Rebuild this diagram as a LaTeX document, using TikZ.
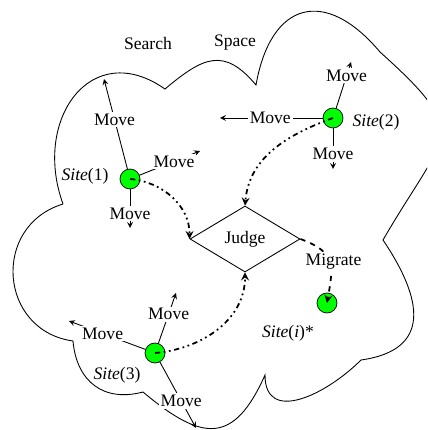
\documentclass[tikz,border=0pt]{standalone}
\usepackage{fontspec}
\setmainfont{Liberation Serif}
\usetikzlibrary{shapes.geometric, arrows, positioning}

\begin{document}
\begin{tikzpicture}[x=0.02cm, y=0.02cm, >=stealth, line width=0.5pt,
	site/.style={circle, draw, line width=0.4pt, fill=green, minimum size=0.4cm, inner sep=0pt},
	judge/.style={diamond, draw, minimum width=2.2cm, minimum height=1.32cm, inner sep=0pt},
	move/.style={fill=white, inner sep=1pt},
	flow/.style={->, line width=1pt, dash dot dot}]
	\useasboundingbox (0,0) rectangle (427,430);
	\clip (0,0) rectangle (427,430);

	% search space
	\draw (63,226) to[out=110, in=145, looseness=1.5] (165,341)
		to[out=40, in=130, looseness=1.4] (256,345)
		to[out=80, in=130, looseness=1.7] (380,378)
		to[out=-42, in=60, looseness=1.7] (383,190)
		to[out=-56, in=8, looseness=1.5] (361,70)
		to[out=225, in=-90, looseness=1.3] (265,55)
		to[out=246, in=-40, looseness=1.6] (143,38)
		to[out=195, in=-85, looseness=1.2] (73,89)
		to[out=172, in=-163, looseness=1.4] (63,226);

	\node (search) at (148,387) {Search};
	\node (space) at (235,387) {Space};

	\node[site] (s1) at (130,251) {};
	\node[site] (s2) at (333,312) {};
	\node[site] (s3) at (155,77) {};
	\node[site] (si) at (327,127) {};
	\node (l1) at (85,254) {\textit{Site}(1)};
	\node (l2) at (376,308) {\textit{Site}(2)};
	\node (l3) at (117,55) {\textit{Site}(3)};
	\node (li) at (288,97) {\textit{Site}(\textit{i})*};
	\node[judge] (judge) at (245,191) {Judge};

	\coordinate (m1u) at (104,351);
	\coordinate (m1r) at (200,279);
	\coordinate (m1d) at (130,202);
	\coordinate (m2u) at (351,368);
	\coordinate (m2l) at (220,312);
	\coordinate (m2d) at (333,261);
	\coordinate (m3u) at (176,137);
	\coordinate (m3l) at (69,109);
	\coordinate (m3d) at (196,2);

	\draw
	(s1) edge[->] node[move, pos=.55]{Move} (m1u)
	(s1) edge[->] node[move, pos=.57]{Move} (m1r)
	(s1) edge[->] node[move, pos=.63]{Move} (m1d)
	(s2) edge[->] node[move, pos=.7]{Move} (m2u)
	(s2) edge[->] node[move, pos=.51]{Move} (m2l)
	(s2) edge[->] node[move, pos=.63]{Move} (m2d)
	(s3) edge[->] node[move, pos=.58]{Move} (m3u)
	(s3) edge[->] node[move, pos=.56]{Move} (m3l)
	(s3) edge[->] node[move, pos=.59]{Move} (m3d);

	\draw[flow] (s1.center) to[out=-5, in=90] (judge.west);
	\draw[flow] (s2.center) to[out=200, in=85] (judge.north);
	\draw[flow] (s3.center) to[out=5, in=-90] (judge.south);
	\draw[->, dashed, line width=1pt] (judge.east) to[out=-20, in=80, looseness=1.4]
		node[move, xshift=0.08cm] (mig) {Migrate} (si.center);
\end{tikzpicture}
\end{document}
